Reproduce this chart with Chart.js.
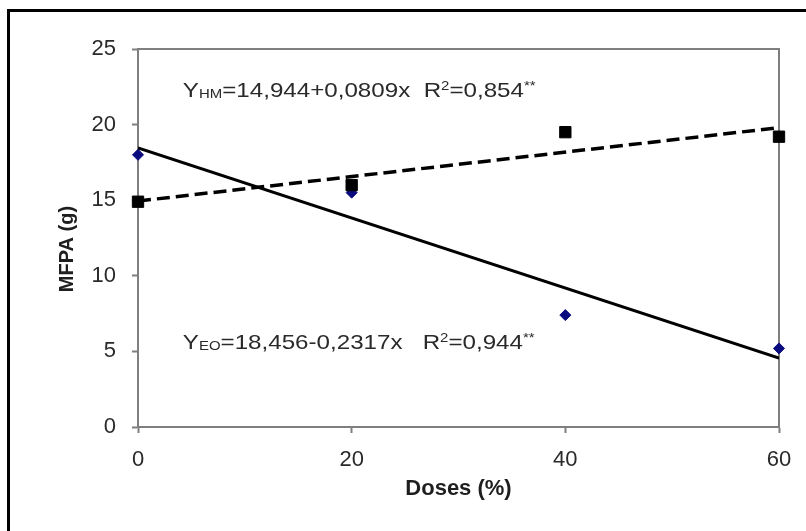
<!DOCTYPE html>
<html>
<head>
<meta charset="utf-8">
<script src="https://cdn.jsdelivr.net/npm/chart.js@4.4.1/dist/chart.umd.min.js"></script>
<style>
  html, body { margin: 0; padding: 0; background: #ffffff; }
  #wrap { width: 806px; height: 531px; position: relative; }
  canvas { display: block; }
</style>
</head>
<body>
<div id="wrap"><canvas id="c" width="806" height="531"></canvas></div>
<script>
// ---- data ----
const doses = [0, 20, 40, 60];
const hmValues = [14.9, 16.0, 19.5, 19.2];   // black squares (HM)
const eoValues = [18.0, 15.5, 7.4, 5.2];     // blue diamonds (EO)
const trendDoses = [0, 60];
const hmTrend = [14.944, 19.798];            // dashed trend line end values
const eoTrend = [18.456, 4.554];             // solid trend line end values
const xTicks = [0, 20, 40, 60];
const yTicks = [0, 5, 10, 15, 20, 25];
const xTitle = 'Doses (%)';
const yTitle = 'MFPA (g)';
const hmEquation = [
  { t: 'Y' }, { t: 'HM', s: 'sub' }, { t: '=14,944+0,0809x  R' }, { t: '2', s: 'sup' },
  { t: '=0,854' }, { t: '**', s: 'sup' }
];
const eoEquation = [
  { t: 'Y' }, { t: 'EO', s: 'sub' }, { t: '=18,456-0,2317x   R' }, { t: '2', s: 'sup' },
  { t: '=0,944' }, { t: '**', s: 'sup' }
];
// anchor of each equation in data units (dose, value)
const hmEqAnchor = [4.2, 21.8];
const eoEqAnchor = [4.2, 5.15];

const FONT = '"Liberation Sans", Arial, Helvetica, sans-serif';
const AXIS_GRAY = '#7f7f7f';
const TEXT = '#2a2a2a';

const pts = (xs, ys) => xs.map((x, i) => ({ x: x, y: ys[i] }));

const framePlugin = {
  id: 'frame',
  beforeDraw(chart) {
    const ctx = chart.ctx;
    ctx.save();
    ctx.fillStyle = '#ffffff';
    ctx.fillRect(0, 0, chart.width, chart.height);
    ctx.fillStyle = '#000000';
    ctx.fillRect(7, 9, 3, chart.height - 9);
    ctx.fillRect(7, 9, chart.width - 7, 3);
    ctx.restore();
  },
  beforeDatasetsDraw(chart) {
    const ctx = chart.ctx;
    const a = chart.chartArea;
    ctx.save();
    ctx.strokeStyle = AXIS_GRAY;
    ctx.lineWidth = 2;
    ctx.beginPath();
    ctx.moveTo(a.left, a.top);
    ctx.lineTo(a.right, a.top);
    ctx.lineTo(a.right, a.bottom);
    ctx.stroke();
    ctx.restore();
  },
  afterDraw(chart) {
    const ctx = chart.ctx;
    const xs = chart.scales.x, ys = chart.scales.y;
    ctx.save();
    ctx.fillStyle = '#1e1e1e';
    ctx.font = 'bold 20px ' + FONT;
    ctx.textAlign = 'center';
    ctx.textBaseline = 'alphabetic';
    ctx.translate(73, (ys.top + ys.bottom) / 2 + 11);
    ctx.rotate(-Math.PI / 2);
    ctx.fillText(yTitle, 0, 0);
    ctx.restore();

    const drawEq = (parts, anchor) => {
      ctx.save();
      ctx.fillStyle = TEXT;
      ctx.textBaseline = 'alphabetic';
      ctx.textAlign = 'left';
      ctx.translate(xs.getPixelForValue(anchor[0]), ys.getPixelForValue(anchor[1]));
      ctx.scale(1.15, 1);
      let cx = 0;
      for (const p of parts) {
        const size = p.s ? 13 : 21;
        ctx.font = size + 'px ' + FONT;
        const dy = p.s === 'sub' ? 1 : (p.s === 'sup' ? -7 : 0);
        ctx.fillText(p.t, cx, dy);
        cx += ctx.measureText(p.t).width;
      }
      ctx.restore();
    };
    drawEq(hmEquation, hmEqAnchor);
    drawEq(eoEquation, eoEqAnchor);
  }
};

new Chart(document.getElementById('c'), {
  type: 'scatter',
  data: {
    datasets: [
      {
        label: 'HM trend',
        data: pts(trendDoses, hmTrend),
        showLine: true,
        borderColor: '#000000',
        borderWidth: 3.5,
        borderDash: [13, 6],
        pointRadius: 0,
        fill: false
      },
      {
        label: 'EO trend',
        data: pts(trendDoses, eoTrend),
        showLine: true,
        borderColor: '#000000',
        borderWidth: 3,
        pointRadius: 0,
        fill: false
      },
      {
        label: 'HM',
        data: pts(doses, hmValues),
        clip: false,
        pointStyle: 'rect',
        pointRadius: 8,
        borderWidth: 1,
        backgroundColor: '#000000',
        borderColor: '#000000'
      },
      {
        label: 'EO',
        data: pts(doses, eoValues),
        clip: false,
        pointStyle: 'rectRot',
        pointRadius: 5.5,
        borderWidth: 1,
        backgroundColor: '#0b0b80',
        borderColor: '#0b0b80'
      }
    ]
  },
  options: {
    responsive: false,
    animation: false,
    devicePixelRatio: 1,
    layout: { padding: { left: 0, right: 27, top: 49, bottom: 0 } },
    plugins: { legend: { display: false }, tooltip: { enabled: false } },
    scales: {
      x: {
        type: 'linear',
        min: 0, max: 60,
        afterBuildTicks: (s) => { s.ticks = xTicks.map(v => ({ value: v })); },
        afterFit: (s) => { s.height = 104; },
        grid: { drawOnChartArea: false, color: AXIS_GRAY, tickLength: 6, tickWidth: 2 },
        border: { color: AXIS_GRAY, width: 2 },
        ticks: { color: TEXT, font: { family: FONT, size: 22 }, padding: 14, maxRotation: 0 },
        title: { display: true, text: xTitle, color: '#1e1e1e',
                 font: { family: FONT, size: 22, weight: 'bold' }, padding: { top: 0, bottom: 29 } }
      },
      y: {
        type: 'linear',
        min: 0, max: 25,
        afterBuildTicks: (s) => { s.ticks = yTicks.map(v => ({ value: v })); },
        afterFit: (s) => { s.width = 138; },
        grid: { drawOnChartArea: false, color: AXIS_GRAY, tickLength: 6, tickWidth: 2 },
        border: { color: AXIS_GRAY, width: 2 },
        ticks: { color: TEXT, font: { family: FONT, size: 22 }, padding: 16 }
      }
    }
  },
  plugins: [framePlugin]
});
</script>
</body>
</html>
